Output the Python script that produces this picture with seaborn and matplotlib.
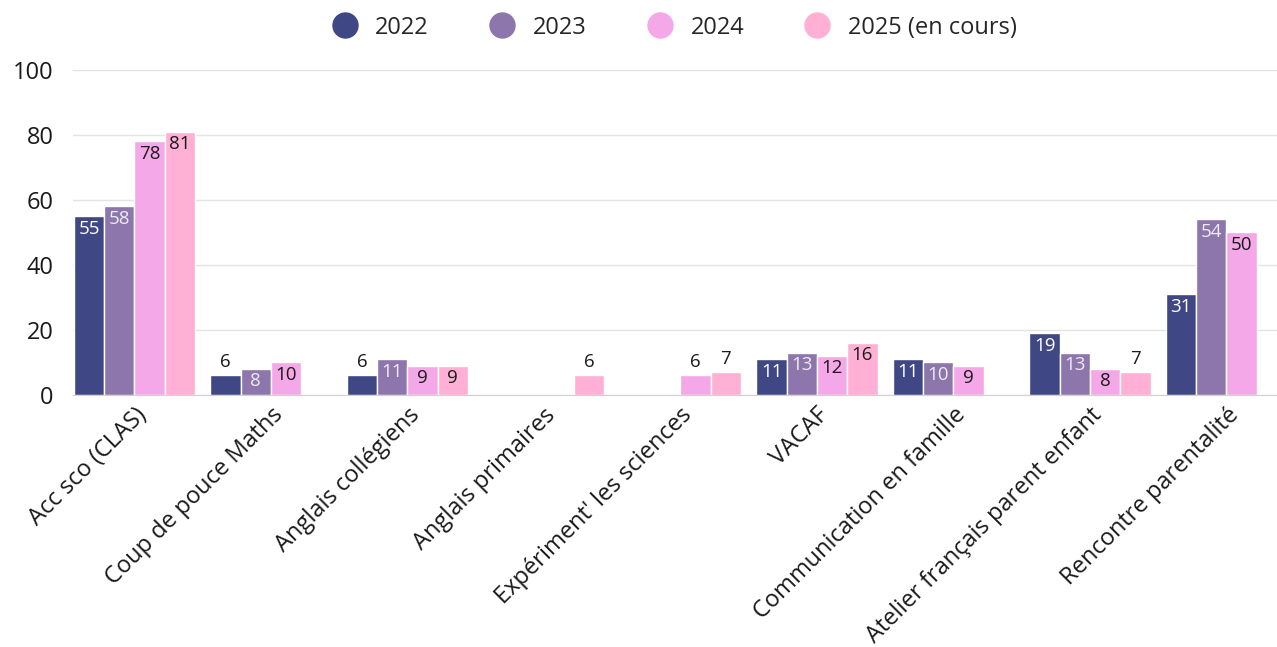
import numpy as np
import pandas as pd
import matplotlib.pyplot as plt
import seaborn as sns
from matplotlib.lines import Line2D

actions = ["Acc sco (CLAS)", "Coup de pouce Maths", "Anglais collégiens", "Anglais primaires",
           "Expériment' les sciences", "VACAF", "Communication en famille",
           "Atelier français parent enfant", "Rencontre parentalité"]
years = ["2022", "2023", "2024", "2025 (en cours)"]
v2022 = [55, 6, 6, np.nan, np.nan, 11, 11, 19, 31]
v2023 = [58, 8, 11, np.nan, np.nan, 13, 10, 13, 54]
v2024 = [78, 10, 9, np.nan, 6, 12, 9, 8, 50]
v2025 = [81, np.nan, 9, 6, 7, 16, np.nan, 7, np.nan]
colors = ["#3f4785", "#8c76ab", "#f5a8e8", "#ffb0d4"]
label_colors = ["white", "#f0eaf5", "#1a1a1a", "#1a1a1a"]

df = pd.DataFrame({"action": actions, years[0]: v2022, years[1]: v2023,
                   years[2]: v2024, years[3]: v2025})
df = df.melt(id_vars="action", var_name="year", value_name="value")

sns.set_style("white")
plt.rcParams["font.family"] = ["Open Sans", "DejaVu Sans"]

fig = plt.figure(figsize=(12.77, 6.47), dpi=100)
ax = fig.add_axes([73 / 1277, 0.3895, 1 - 73 / 1277, 0.5025])

sns.barplot(data=df, x="action", y="value", hue="year", hue_order=years,
            palette=colors, width=0.887, saturation=1, edgecolor="white",
            linewidth=1, ax=ax, legend=False)

# value labels: small bars get the number above, others inside at the top
for container, lc in zip(ax.containers, label_colors):
    for bar in container:
        h = bar.get_height()
        if np.isnan(h) or h == 0:
            continue
        x = bar.get_x() + bar.get_width() / 2
        if h < 8:
            ax.annotate(f"{h:.0f}", (x, h), xytext=(0, 3), textcoords="offset points",
                        ha="center", va="bottom", fontsize=13.5, color="#1a1a1a")
        else:
            ax.annotate(f"{h:.0f}", (x, h), xytext=(0, -2.5), textcoords="offset points",
                        ha="center", va="top", fontsize=13.5, color=lc)

ax.set_ylim(0, 100)
ax.set_xlim(-0.45, 8.37)
ax.set_yticks(range(0, 101, 20))
ax.yaxis.grid(True, color="#e3e3e3", linewidth=1)
ax.set_axisbelow(True)
for s in ["top", "right", "left"]:
    ax.spines[s].set_visible(False)
ax.spines["bottom"].set_color("#d0d0d0")
ax.tick_params(axis="both", length=0, labelsize=17, colors="#1a1a1a")
ax.tick_params(axis="y", pad=14)
ax.tick_params(axis="x", pad=6)
ax.set_xlabel("")
ax.set_ylabel("")
plt.setp(ax.get_xticklabels(), rotation=45, ha="right", rotation_mode="anchor")

handles = [Line2D([], [], marker="o", linestyle="", markersize=18, markerfacecolor=c,
                  markeredgecolor=c) for c in colors]
ax.legend(handles, years, loc="center", bbox_to_anchor=(0.495, 1.13), ncol=4,
          frameon=False, fontsize=17, handletextpad=0.3, columnspacing=2.1)

fig.savefig("out.png", dpi=100)
